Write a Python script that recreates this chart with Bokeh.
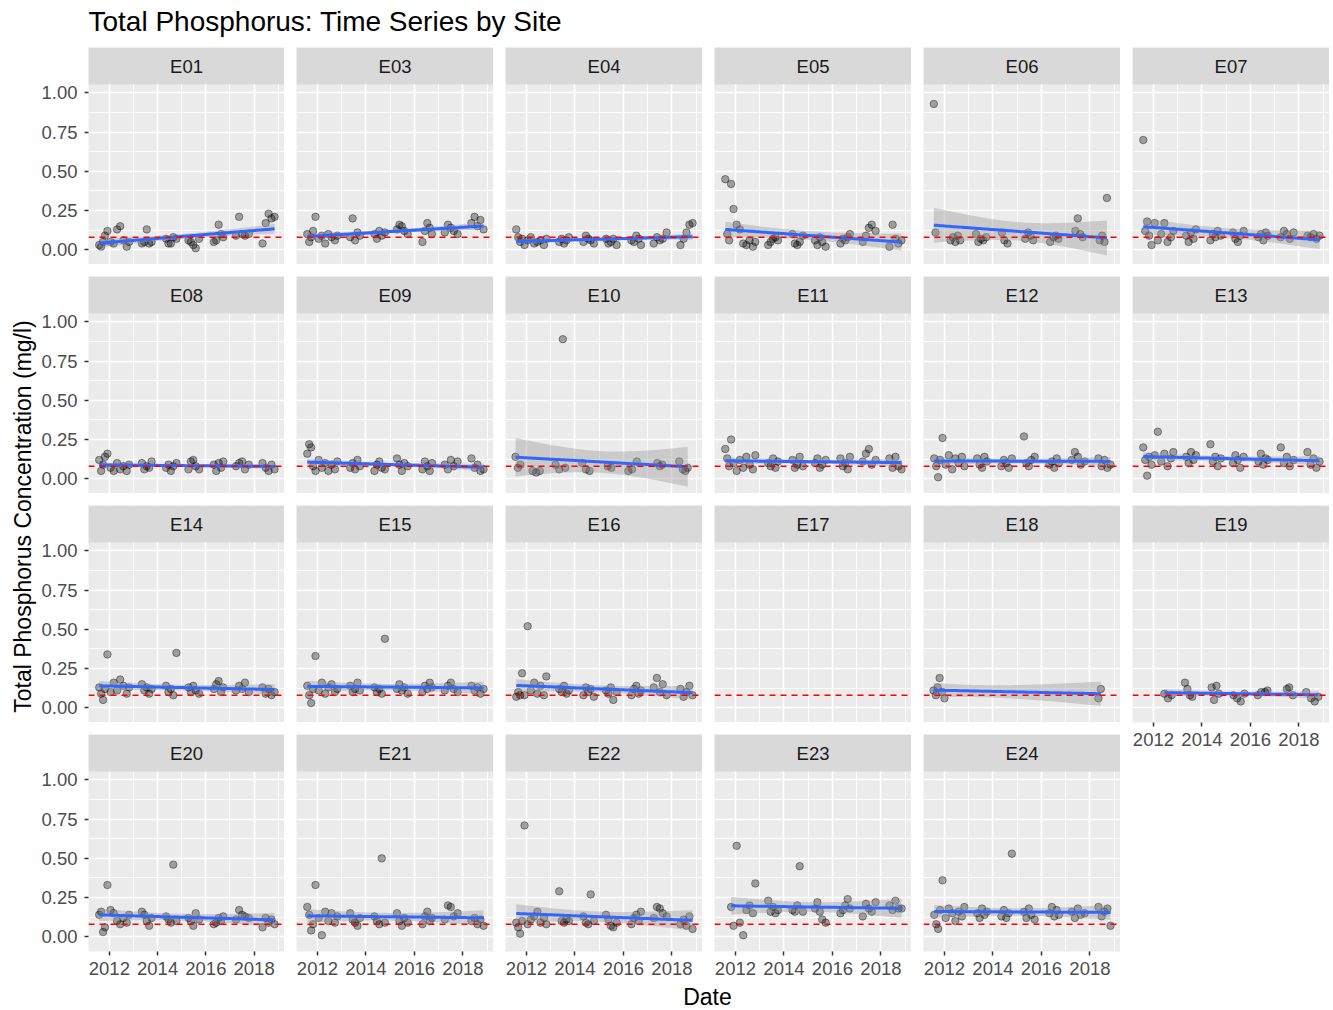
import numpy as np
from bokeh.plotting import figure
from bokeh.layouts import row, column
from bokeh.models import (Range1d, FixedTicker, Span, BoxAnnotation, Label,
                          PrintfTickFormatter)
from bokeh.embed import file_html
from bokeh.resources import INLINE

# ---------------- texts & scales ----------------
TITLE = "Total Phosphorus: Time Series by Site"
Y_LABEL = "Total Phosphorus Concentration (mg/l)"
X_LABEL = "Date"
THRESHOLD = 0.08
Y_TICKS = [0.0, 0.25, 0.5, 0.75, 1.0]
Y_MINOR = [0.125, 0.375, 0.625, 0.875]
X_TICKS = [2012, 2014, 2016, 2018]
X_MINOR = [2011, 2013, 2015, 2017, 2019]
X_LIMITS = (2011.136, 2019.26)
Y_LIMITS = (-0.094, 1.054)

PANEL_ROWS = [
    ["E01", "E03", "E04", "E05", "E06", "E07"],
    ["E08", "E09", "E10", "E11", "E12", "E13"],
    ["E14", "E15", "E16", "E17", "E18", "E19"],
    ["E20", "E21", "E22", "E23", "E24"],
]

# ---------------- data (decimal year, mg/l) ----------------
D_STD = [2011.58, 2011.66, 2011.74, 2011.82, 2011.92, 2012.05, 2012.18, 2012.32, 2012.45, 2012.58, 2012.72, 2012.82,
         2013.35, 2013.45, 2013.55, 2013.65, 2013.75,
         2014.35, 2014.45, 2014.55, 2014.65, 2014.78,
         2015.28, 2015.38, 2015.48, 2015.58, 2015.72,
         2016.33, 2016.43, 2016.53, 2016.63, 2016.72,
         2017.25, 2017.38, 2017.50, 2017.62, 2017.78,
         2018.35, 2018.48, 2018.60, 2018.72, 2018.85]

TP_E01 = [0.03, 0.02, 0.05, 0.09, 0.12, 0.05, 0.04, 0.13, 0.15, 0.06, 0.02, 0.05,
          0.04, 0.05, 0.13, 0.04, 0.05,
          0.07, 0.04, 0.04, 0.08, 0.07,
          0.06, 0.05, 0.03, 0.01, 0.07,
          0.05, 0.06, 0.16, 0.10, 0.08,
          0.09, 0.21, 0.10, 0.09, 0.10,
          0.04, 0.17, 0.23, 0.20, 0.21]
TP_E03 = [0.10, 0.05, 0.08, 0.12, 0.21, 0.07, 0.09, 0.04, 0.10, 0.08, 0.06, 0.09,
          0.08, 0.20, 0.06, 0.11, 0.09,
          0.10, 0.07, 0.12, 0.09, 0.11,
          0.13, 0.16, 0.15, 0.12, 0.10,
          0.05, 0.12, 0.17, 0.14, 0.10,
          0.11, 0.16, 0.14, 0.12, 0.10,
          0.17, 0.21, 0.15, 0.19, 0.13]
TP_E04 = [0.13, 0.08, 0.05, 0.07, 0.03, 0.06, 0.08, 0.04, 0.05, 0.06, 0.03, 0.07,
          0.05, 0.07, 0.04, 0.06, 0.08,
          0.05, 0.09, 0.07, 0.06, 0.04,
          0.07, 0.04, 0.05, 0.07, 0.03,
          0.06, 0.05, 0.09, 0.07, 0.03,
          0.04, 0.08, 0.06, 0.07, 0.11,
          0.03, 0.07, 0.11, 0.16, 0.17]
TP_E05 = [0.45, 0.10, 0.06, 0.42, 0.26, 0.16, 0.13, 0.04, 0.03, 0.06, 0.02, 0.05,
          0.03, 0.05, 0.07, 0.08, 0.06,
          0.10, 0.04, 0.03, 0.05, 0.09,
          0.06, 0.03, 0.08, 0.05, 0.02,
          0.04, 0.07, 0.06, 0.08, 0.10,
          0.05, 0.09, 0.14, 0.16, 0.12,
          0.02, 0.16, 0.07, 0.04, 0.06]
D_E06 = [2011.56, 2011.63, 2012.25, 2012.35, 2012.45, 2012.55, 2012.65, 2013.30, 2013.40, 2013.50, 2013.60,
         2013.72, 2014.37, 2014.47, 2014.60, 2015.33, 2015.45, 2015.55, 2015.66, 2016.36, 2016.50, 2016.60,
         2016.70, 2017.40, 2017.50, 2017.60, 2017.70, 2018.40, 2018.50, 2018.60, 2018.70]
TP_E06 = [0.93, 0.11, 0.06, 0.08, 0.05, 0.09, 0.06, 0.10, 0.05, 0.07, 0.06,
          0.08, 0.11, 0.06, 0.04, 0.07, 0.11, 0.09, 0.06, 0.05, 0.08, 0.09,
          0.07, 0.12, 0.20, 0.10, 0.08, 0.06, 0.09, 0.05, 0.33]
TP_E07 = [0.70, 0.12, 0.18, 0.09, 0.03, 0.17, 0.06, 0.10, 0.17, 0.05, 0.08, 0.12,
          0.09, 0.05, 0.11, 0.07, 0.13,
          0.06, 0.10, 0.08, 0.12, 0.09,
          0.11, 0.07, 0.05, 0.09, 0.12,
          0.08, 0.10, 0.06, 0.11, 0.09,
          0.08, 0.12, 0.10, 0.07, 0.11,
          0.09, 0.08, 0.10, 0.07, 0.09]
TP_E08 = [0.12, 0.05, 0.09, 0.14, 0.16, 0.07, 0.05, 0.10, 0.06, 0.08, 0.05, 0.09,
          0.10, 0.06, 0.08, 0.07, 0.11,
          0.07, 0.09, 0.05, 0.08, 0.10,
          0.06, 0.11, 0.12, 0.08, 0.06,
          0.09, 0.05, 0.10, 0.07, 0.11,
          0.08, 0.10, 0.11, 0.06, 0.09,
          0.10, 0.07, 0.05, 0.09, 0.06]
TP_E09 = [0.16, 0.22, 0.20, 0.08, 0.05, 0.12, 0.07, 0.10, 0.05, 0.09, 0.06, 0.11,
          0.07, 0.10, 0.06, 0.12, 0.08,
          0.05, 0.09, 0.11, 0.07, 0.06,
          0.13, 0.09, 0.05, 0.10, 0.08,
          0.06, 0.11, 0.08, 0.05, 0.10,
          0.09, 0.06, 0.12, 0.08, 0.11,
          0.13, 0.07, 0.09, 0.05, 0.06]
D_E10 = [2011.55, 2011.65, 2011.75, 2012.25, 2012.40, 2012.55, 2013.20, 2013.35, 2013.50, 2013.60,
         2014.30, 2014.45, 2014.60, 2015.35, 2015.50, 2016.20, 2016.35, 2016.55, 2017.40, 2017.50,
         2017.60, 2018.30, 2018.45, 2018.55, 2018.65]
TP_E10 = [0.14, 0.07, 0.09, 0.05, 0.04, 0.05, 0.09, 0.06, 0.89, 0.07,
          0.10, 0.06, 0.05, 0.08, 0.07, 0.05, 0.06, 0.11, 0.10, 0.08,
          0.09, 0.11, 0.06, 0.05, 0.07]
TP_E11 = [0.19, 0.13, 0.08, 0.25, 0.10, 0.05, 0.12, 0.07, 0.14, 0.09, 0.06, 0.15,
          0.10, 0.08, 0.13, 0.07, 0.11,
          0.12, 0.07, 0.09, 0.14, 0.08,
          0.10, 0.13, 0.07, 0.09, 0.12,
          0.13, 0.08, 0.10, 0.06, 0.14,
          0.11, 0.16, 0.19, 0.09, 0.12,
          0.13, 0.07, 0.14, 0.08, 0.06]
TP_E12 = [0.13, 0.08, 0.01, 0.12, 0.26, 0.09, 0.15, 0.06, 0.13, 0.10, 0.14, 0.08,
          0.13, 0.09, 0.07, 0.14, 0.11,
          0.08, 0.12, 0.10, 0.07, 0.13,
          0.27, 0.10, 0.08, 0.12, 0.14,
          0.09, 0.11, 0.07, 0.13, 0.10,
          0.12, 0.17, 0.14, 0.09, 0.11,
          0.13, 0.08, 0.12, 0.07, 0.09]
TP_E13 = [0.20, 0.12, 0.02, 0.14, 0.09, 0.15, 0.30, 0.11, 0.16, 0.08, 0.13, 0.17,
          0.14, 0.10, 0.17, 0.12, 0.15,
          0.22, 0.11, 0.14, 0.08, 0.13,
          0.10, 0.15, 0.12, 0.07, 0.14,
          0.11, 0.16, 0.09, 0.13, 0.12,
          0.20, 0.10, 0.14, 0.08, 0.12,
          0.17, 0.09, 0.13, 0.07, 0.11]
TP_E14 = [0.13, 0.09, 0.05, 0.12, 0.34, 0.10, 0.16, 0.11, 0.18, 0.14, 0.09, 0.13,
          0.15, 0.11, 0.13, 0.09, 0.12,
          0.14, 0.10, 0.12, 0.08, 0.35,
          0.13, 0.10, 0.14, 0.11, 0.09,
          0.12, 0.15, 0.17, 0.10, 0.13,
          0.11, 0.14, 0.12, 0.16, 0.10,
          0.13, 0.09, 0.12, 0.08, 0.10]
TP_E15 = [0.14, 0.08, 0.03, 0.12, 0.33, 0.11, 0.16, 0.09, 0.13, 0.15, 0.10, 0.12,
          0.14, 0.10, 0.12, 0.16, 0.11,
          0.13, 0.10, 0.12, 0.09, 0.44,
          0.12, 0.15, 0.11, 0.13, 0.09,
          0.10, 0.14, 0.12, 0.16, 0.13,
          0.11, 0.14, 0.16, 0.12, 0.10,
          0.14, 0.11, 0.13, 0.09, 0.12]
TP_E16 = [0.07, 0.10, 0.08, 0.22, 0.08, 0.52, 0.11, 0.16, 0.09, 0.14, 0.08, 0.20,
          0.12, 0.10, 0.14, 0.09, 0.11,
          0.08, 0.13, 0.10, 0.12, 0.07,
          0.11, 0.09, 0.13, 0.05, 0.10,
          0.08, 0.12, 0.14, 0.09, 0.11,
          0.13, 0.19, 0.10, 0.15, 0.08,
          0.12, 0.07, 0.10, 0.14, 0.08]
D_E17 = []
TP_E17 = []
D_E18 = [2011.55, 2011.65, 2011.72, 2011.80, 2011.90, 2012.00, 2018.35, 2018.45]
TP_E18 = [0.11, 0.08, 0.13, 0.19, 0.10, 0.06, 0.06, 0.12]
D_E19 = [2012.45, 2012.60, 2012.75, 2013.30, 2013.40, 2013.50, 2013.60, 2014.40, 2014.50, 2014.60,
         2014.70, 2015.30, 2015.45, 2015.60, 2015.75, 2016.30, 2016.45, 2016.60, 2016.70, 2017.50,
         2017.60, 2017.75, 2018.30, 2018.50, 2018.65, 2018.80]
TP_E19 = [0.09, 0.06, 0.08, 0.16, 0.12, 0.08, 0.07, 0.13, 0.05, 0.14,
          0.09, 0.08, 0.06, 0.04, 0.09, 0.08, 0.10, 0.10, 0.11, 0.12,
          0.13, 0.08, 0.10, 0.06, 0.04, 0.07]
TP_E20 = [0.14, 0.16, 0.03, 0.06, 0.33, 0.17, 0.15, 0.10, 0.08, 0.12, 0.09, 0.14,
          0.16, 0.14, 0.10, 0.07, 0.12,
          0.13, 0.11, 0.09, 0.46, 0.10,
          0.12, 0.10, 0.07, 0.15, 0.11,
          0.08, 0.09, 0.12, 0.10, 0.13,
          0.11, 0.17, 0.14, 0.13, 0.12,
          0.06, 0.12, 0.09, 0.11, 0.08]
TP_E21 = [0.19, 0.14, 0.04, 0.08, 0.33, 0.12, 0.01, 0.16, 0.10, 0.15, 0.09, 0.13,
          0.15, 0.11, 0.09, 0.07, 0.12,
          0.13, 0.10, 0.08, 0.50, 0.09,
          0.15, 0.10, 0.07, 0.12, 0.09,
          0.08, 0.13, 0.16, 0.10, 0.12,
          0.11, 0.20, 0.19, 0.13, 0.15,
          0.10, 0.12, 0.08, 0.11, 0.07]
TP_E22 = [0.09, 0.06, 0.02, 0.10, 0.71, 0.08, 0.11, 0.13, 0.16, 0.09, 0.12, 0.08,
          0.29, 0.10, 0.09, 0.11, 0.10,
          0.13, 0.09, 0.08, 0.27, 0.10,
          0.14, 0.11, 0.07, 0.06, 0.09,
          0.08, 0.12, 0.14, 0.10, 0.16,
          0.12, 0.19, 0.18, 0.15, 0.13,
          0.08, 0.11, 0.07, 0.13, 0.05]
D_E23 = D_STD[3:]
TP_E23 = [0.19, 0.07, 0.58, 0.09, 0.01, 0.17, 0.20, 0.15, 0.34,
          0.23, 0.16, 0.19, 0.15, 0.17,
          0.17, 0.16, 0.20, 0.45, 0.16,
          0.18, 0.22, 0.16, 0.11, 0.09,
          0.15, 0.17, 0.20, 0.24, 0.18,
          0.13, 0.21, 0.18, 0.16, 0.22,
          0.20, 0.17, 0.23, 0.18, 0.18]
TP_E24 = [0.14, 0.08, 0.05, 0.17, 0.36, 0.12, 0.18, 0.15, 0.10, 0.16, 0.13, 0.19,
          0.15, 0.12, 0.18, 0.14, 0.16,
          0.13, 0.17, 0.12, 0.15, 0.53,
          0.16, 0.12, 0.18, 0.14, 0.11,
          0.15, 0.19, 0.13, 0.17, 0.14,
          0.16, 0.12, 0.18, 0.14, 0.15,
          0.19, 0.13, 0.16, 0.18, 0.07]

SITE_DATA = {
    "E01": (D_STD, TP_E01), "E03": (D_STD, TP_E03), "E04": (D_STD, TP_E04),
    "E05": (D_STD, TP_E05), "E06": (D_E06, TP_E06), "E07": (D_STD, TP_E07),
    "E08": (D_STD, TP_E08), "E09": (D_STD, TP_E09), "E10": (D_E10, TP_E10),
    "E11": (D_STD, TP_E11), "E12": (D_STD, TP_E12), "E13": (D_STD, TP_E13),
    "E14": (D_STD, TP_E14), "E15": (D_STD, TP_E15), "E16": (D_STD, TP_E16),
    "E17": (D_E17, TP_E17), "E18": (D_E18, TP_E18), "E19": (D_E19, TP_E19),
    "E20": (D_STD, TP_E20), "E21": (D_STD, TP_E21), "E22": (D_STD, TP_E22),
    "E23": (D_E23, TP_E23), "E24": (D_STD, TP_E24),
}

# ---------------- geometry & style ----------------
FONT = "Liberation Sans"
FRAME_W = 197
DATA_PX = 180
STRIP_PX = 37
FRAME_H = DATA_PX + STRIP_PX
GAP_X = 12
GAP_Y = 12
Y_AXIS_W = 49
X_AXIS_H = 32
YLAB_W = 38
TITLE_H = 47
XLAB_H = 27
TOTAL_W = YLAB_W + Y_AXIS_W + FRAME_W + 5 * (GAP_X + FRAME_W)
MAIN_H = 4 * FRAME_H + 3 * GAP_Y + X_AXIS_H

UPP = (Y_LIMITS[1] - Y_LIMITS[0]) / DATA_PX
Y_STRIP_TOP = Y_LIMITS[1] + STRIP_PX * UPP

PANEL_BG = "#EBEBEB"
STRIP_BG = "#D9D9D9"


def lm_fit(x, y, n_grid=80):
    x = np.asarray(x, float)
    y = np.asarray(y, float)
    n = len(x)
    b, a = np.polyfit(x, y, 1)
    resid = y - (a + b * x)
    s = np.sqrt(np.sum(resid ** 2) / (n - 2))
    xm = x.mean()
    sxx = np.sum((x - xm) ** 2)
    xg = np.linspace(x.min(), x.max(), n_grid)
    fit = a + b * xg
    se = s * np.sqrt(1.0 / n + (xg - xm) ** 2 / sxx)
    df = n - 2
    z = 1.959964
    t = z + (z ** 3 + z) / (4 * df) + (5 * z ** 5 + 16 * z ** 3 + 3 * z) / (96 * df ** 2)
    return xg, fit, fit - t * se, fit + t * se


def make_panel(site, r, c, x_axis):
    y_axis = (c == 0)
    left = Y_AXIS_W if y_axis else GAP_X
    top = 0 if r == 0 else GAP_Y
    bottom = X_AXIS_H if x_axis else 0
    p = figure(width=left + FRAME_W, height=top + FRAME_H + bottom,
               x_range=Range1d(*X_LIMITS), y_range=Range1d(Y_LIMITS[0], Y_STRIP_TOP),
               toolbar_location=None, output_backend="svg", title=None,
               x_axis_location="below" if x_axis else None,
               y_axis_location="left" if y_axis else None,
               min_border_left=left, min_border_right=0,
               min_border_top=top, min_border_bottom=bottom,
               background_fill_color=PANEL_BG, border_fill_color="white",
               outline_line_color=None)
    for g in p.xgrid:
        g.ticker = FixedTicker(ticks=X_TICKS, minor_ticks=X_MINOR)
    for g in p.ygrid:
        g.ticker = FixedTicker(ticks=Y_TICKS, minor_ticks=Y_MINOR)
    for g in p.grid:
        g.grid_line_color = "white"
        g.grid_line_width = 1.7
        g.minor_grid_line_color = "white"
        g.minor_grid_line_width = 0.9

    for ax in p.axis:
        ax.axis_line_color = None
        ax.major_tick_line_color = "#333333"
        ax.major_tick_line_width = 1.5
        ax.major_tick_out = 4
        ax.major_tick_in = 0
        ax.minor_tick_line_color = None
        ax.major_label_text_font = FONT
        ax.major_label_text_font_size = "18.5px"
        ax.major_label_text_color = "#4D4D4D"
        ax.major_label_standoff = 6
    if x_axis:
        p.xaxis[0].ticker = FixedTicker(ticks=X_TICKS)
        p.xaxis[0].formatter = PrintfTickFormatter(format="%d")
    if y_axis:
        p.yaxis[0].ticker = FixedTicker(ticks=Y_TICKS)
        p.yaxis[0].formatter = PrintfTickFormatter(format="%.2f")
        p.yaxis[0].major_label_standoff = 7

    dates, vals = SITE_DATA[site]
    if len(dates) > 0:
        p.scatter(dates, vals, size=7.5, fill_color="black", fill_alpha=0.33,
                  line_color="black", line_alpha=0.38, line_width=1)
    if len(dates) > 2:
        xg, fit, lo, hi = lm_fit(dates, vals)
        p.varea(x=xg, y1=lo, y2=hi, fill_color="#999999", fill_alpha=0.4)
        p.line(xg, fit, line_color="#3366FF", line_width=3)

    p.add_layout(Span(location=THRESHOLD, dimension="width", line_color="red",
                      line_dash="6 5", line_width=1.6))
    p.add_layout(BoxAnnotation(left=X_LIMITS[0], right=X_LIMITS[1],
                               bottom=Y_LIMITS[1], top=Y_STRIP_TOP,
                               fill_color=STRIP_BG, fill_alpha=1.0, line_color=None))
    p.add_layout(Label(x=(X_LIMITS[0] + X_LIMITS[1]) / 2, y=(Y_LIMITS[1] + Y_STRIP_TOP) / 2,
                       text=site, text_align="center", text_baseline="middle",
                       text_font=FONT, text_font_size="18.5px", text_color="#1A1A1A"))
    return p


def blank(width, height):
    f = figure(width=width, height=height, x_range=Range1d(0, width), y_range=Range1d(0, height),
               toolbar_location=None, output_backend="svg", title=None,
               x_axis_location=None, y_axis_location=None,
               min_border=0, min_border_left=0, min_border_right=0,
               min_border_top=0, min_border_bottom=0,
               outline_line_color=None, background_fill_color="white", border_fill_color="white")
    f.grid.visible = False
    return f


# columns of panels
n_rows = len(PANEL_ROWS)
cols = []
for c in range(6):
    figs = []
    sites_in_col = [(r, PANEL_ROWS[r][c]) for r in range(n_rows) if c < len(PANEL_ROWS[r])]
    last_r = sites_in_col[-1][0]
    for r, site in sites_in_col:
        figs.append(make_panel(site, r, c, x_axis=(r == last_r)))
    cols.append(column(*figs, spacing=0))

# title
title_fig = blank(TOTAL_W, TITLE_H)
title_fig.add_layout(Label(x=88, y=TITLE_H - 21, text=TITLE, text_font=FONT, text_font_size="28px",
                           text_color="black", text_baseline="middle", text_align="left"))

# y label
ylab_fig = blank(YLAB_W, MAIN_H)
ylab_fig.add_layout(Label(x=22, y=MAIN_H - 469, text=Y_LABEL, angle=np.pi / 2,
                          text_font=FONT, text_font_size="23px", text_color="black",
                          text_align="center", text_baseline="middle"))

# x label
xlab_fig = blank(TOTAL_W, XLAB_H)
xlab_fig.add_layout(Label(x=707, y=XLAB_H / 2, text=X_LABEL, text_font=FONT, text_font_size="23px",
                          text_color="black", text_align="center", text_baseline="middle"))

main = row(ylab_fig, *cols, spacing=0)
page = column(title_fig, main, xlab_fig, spacing=0)

open("out.html", "w").write(file_html(page, INLINE, title="Total Phosphorus"))
